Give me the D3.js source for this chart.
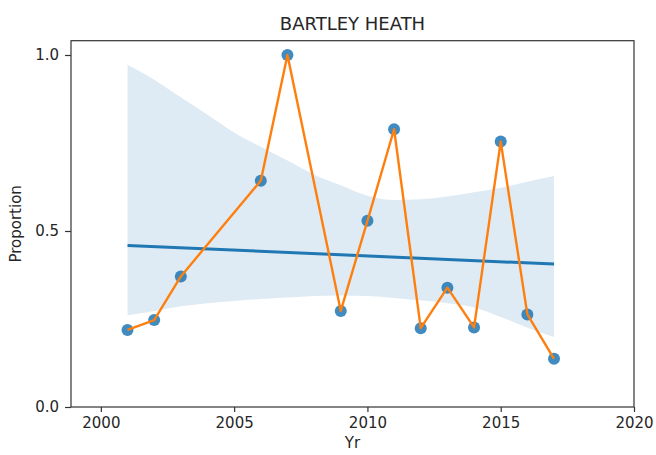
<!DOCTYPE html>
<html lang="en">
<head>
	<meta charset="UTF-8">
	<title>BARTLEY HEATH</title>
	<style>
		body { margin: 0; background: #fff; }
		text { font-family: "DejaVu Sans", sans-serif; fill: #262626; }
	</style>
</head>
<body>
	<script type="text/javascript" src="https://cdn.jsdelivr.net/npm/d3@7/dist/d3.min.js"></script>
	<script type="text/javascript">
		var width = 656;
		var height = 455;

		// data
		var years = [2001, 2002, 2003, 2006, 2007, 2009, 2010, 2011, 2012, 2013, 2014, 2015, 2016, 2017];
		var proportion = [0.219, 0.247, 0.371, 0.643, 1.0, 0.273, 0.529, 0.789, 0.224, 0.339, 0.226, 0.754, 0.263, 0.137];

		// regression line + confidence band (seaborn regplot)
		var fitYears = [2001, 2017];
		var fitValues = [0.459, 0.406];
		var bandYears = [2001, 2002, 2003, 2004, 2005, 2006, 2007, 2008, 2009, 2010, 2011, 2012, 2013, 2014, 2015, 2016, 2017];
		var bandUpper = [0.972, 0.93, 0.88, 0.83, 0.78, 0.739, 0.70, 0.66, 0.63, 0.60, 0.588, 0.59, 0.598, 0.61, 0.623, 0.64, 0.656];
		var bandLower = [0.261, 0.273, 0.286, 0.295, 0.301, 0.307, 0.311, 0.315, 0.317, 0.315, 0.31, 0.303, 0.295, 0.283, 0.256, 0.225, 0.199];

		var xTicks = [2000, 2005, 2010, 2015, 2020];
		var yTicks = [0.0, 0.5, 1.0];

		var plotLeft = 71, plotRight = 634, plotTop = 40.7, plotBottom = 407;

		var svg = d3.select("body")
			.append("svg")
			.attr("width", width)
			.attr("height", height);

		var x = d3.scaleLinear().domain([1998.88, 2020]).range([plotLeft, plotRight]);
		var y = d3.scaleLinear().domain([0, 1.0406]).range([plotBottom, plotTop]);

		// band
		var band = bandYears.map(function(d, i) { return [d, bandLower[i], bandUpper[i]]; });
		svg.append("path")
			.datum(band)
			.attr("fill", "#1f77b4")
			.attr("fill-opacity", 0.15)
			.attr("d", d3.area()
				.x(function(d) { return x(d[0]); })
				.y0(function(d) { return y(d[1]); })
				.y1(function(d) { return y(d[2]); })
				.curve(d3.curveMonotoneX));

		// fit line
		svg.append("line")
			.attr("x1", x(fitYears[0])).attr("y1", y(fitValues[0]))
			.attr("x2", x(fitYears[1])).attr("y2", y(fitValues[1]))
			.attr("stroke", "#1f77b4")
			.attr("stroke-width", 3);

		var pts = years.map(function(d, i) { return [d, proportion[i]]; });

		// scatter points
		svg.selectAll("circle")
			.data(pts)
			.enter()
			.append("circle")
			.attr("cx", function(d) { return x(d[0]); })
			.attr("cy", function(d) { return y(d[1]); })
			.attr("r", 6)
			.attr("fill", "#1f77b4")
			.attr("fill-opacity", 0.85);

		// orange line on top
		svg.append("path")
			.datum(pts)
			.attr("fill", "none")
			.attr("stroke", "#ff7f0e")
			.attr("stroke-width", 2.4)
			.attr("stroke-linejoin", "round")
			.attr("d", d3.line()
				.x(function(d) { return x(d[0]); })
				.y(function(d) { return y(d[1]); }));

		// axes
		var xAxis = svg.append("g")
			.attr("transform", "translate(0," + plotBottom + ")")
			.call(d3.axisBottom(x).tickValues(xTicks).tickFormat(d3.format("d")).tickSize(5).tickSizeOuter(0).tickPadding(5));
		var yAxis = svg.append("g")
			.attr("transform", "translate(" + plotLeft + ",0)")
			.call(d3.axisLeft(y).tickValues(yTicks).tickFormat(d3.format(".1f")).tickSize(6).tickSizeOuter(0).tickPadding(6));

		[xAxis, yAxis].forEach(function(g) {
			g.select(".domain").remove();
			g.selectAll("line").attr("stroke", "#333").attr("stroke-width", 1.2);
			g.selectAll("text").attr("font-size", 15).attr("fill", "#262626")
				.attr("font-family", "DejaVu Sans, sans-serif");
		});

		// frame
		svg.append("rect")
			.attr("x", plotLeft).attr("y", plotTop)
			.attr("width", plotRight - plotLeft).attr("height", plotBottom - plotTop)
			.attr("fill", "none")
			.attr("stroke", "#333")
			.attr("stroke-width", 1.2);

		// title and labels
		svg.append("text")
			.attr("x", (plotLeft + plotRight) / 2).attr("y", 30)
			.attr("text-anchor", "middle")
			.attr("font-size", 18)
			.text("BARTLEY HEATH");

		svg.append("text")
			.attr("x", (plotLeft + plotRight) / 2).attr("y", 448)
			.attr("text-anchor", "middle")
			.attr("font-size", 15)
			.text("Yr");

		svg.append("text")
			.attr("transform", "translate(21," + ((plotTop + plotBottom) / 2) + ") rotate(-90)")
			.attr("text-anchor", "middle")
			.attr("font-size", 15)
			.text("Proportion");
	</script>
</body>
</html>
